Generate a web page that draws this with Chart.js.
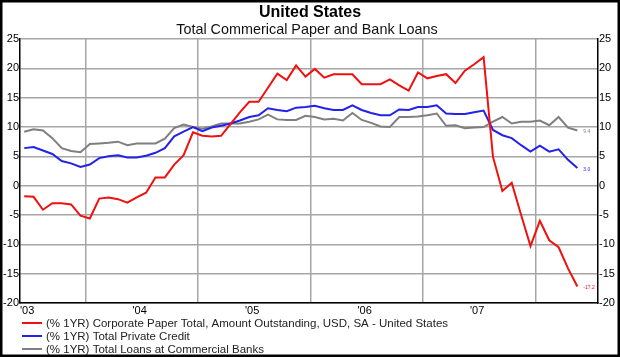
<!DOCTYPE html>
<html>
<head>
<meta charset="utf-8">
<script src="https://cdn.jsdelivr.net/npm/chart.js@4/dist/chart.umd.min.js"></script>
<style>
  html, body { margin: 0; padding: 0; background: #fff; }
  #wrap { position: absolute; left: 0; top: 0; width: 620px; height: 357px; }
</style>
</head>
<body>
<div id="wrap"><canvas id="c" width="620" height="357"></canvas></div>
<script>
// ---- Data (monthly, Jan 2003 .. Dec 2007) ----
const months = [];
for (let y = 2003; y <= 2007; y++) for (let m = 1; m <= 12; m++) months.push(y + '-' + String(m).padStart(2, '0'));

const yearLabels = ["'03", "'04", "'05", "'06", "'07"];

const corporatePaper = [
  -1.8, -1.9, -4.1, -3.0, -3.0, -3.2, -5.1, -5.6, -2.2, -2.0, -2.3, -2.9,
  -2.0, -1.2, 1.4, 1.4, 3.6, 5.2, 9.1, 8.5, 8.4, 8.5, 10.5, 12.5,
  14.3, 14.3, 16.7, 19.1, 18.0, 20.5, 18.6, 19.9, 18.4, 19.0, 19.0, 19.0,
  17.3, 17.3, 17.3, 18.1, 17.1, 16.2, 19.3, 18.3, 18.7, 19.0, 17.5, 19.6,
  20.7, 21.9, 4.9, -0.9, 0.5, -5.0, -10.3, -6.0, -9.3, -10.5, -14.1, -17.2
];
const privateCredit = [
  6.4, 6.6, 6.0, 5.4, 4.2, 3.8, 3.2, 3.6, 4.7, 5.0, 5.2, 4.8,
  4.8, 5.1, 5.6, 6.4, 8.4, 9.2, 10.0, 9.3, 9.9, 10.2, 10.6, 11.1,
  11.7, 12.0, 13.2, 12.9, 12.7, 13.3, 13.4, 13.6, 13.2, 12.9, 12.9, 13.7,
  12.9, 12.4, 12.0, 12.0, 13.0, 12.9, 13.4, 13.4, 13.7, 12.3, 12.2, 12.2,
  12.5, 12.8, 9.5, 8.6, 8.1, 6.9, 5.8, 6.8, 5.8, 6.2, 4.4, 3.0
];
const bankLoans = [
  9.2, 9.6, 9.4, 8.1, 6.4, 5.9, 5.7, 7.1, 7.2, 7.3, 7.5, 6.9,
  7.2, 7.2, 7.2, 8.0, 9.8, 10.4, 10.0, 9.7, 10.1, 10.6, 10.6, 10.6,
  10.9, 11.3, 12.1, 11.3, 11.2, 11.2, 11.9, 11.7, 11.3, 11.4, 11.1, 12.4,
  11.2, 10.7, 10.1, 10.0, 11.7, 11.7, 11.8, 12.0, 12.3, 10.2, 10.3, 9.8,
  9.9, 10.0, 10.9, 11.7, 10.6, 10.9, 10.9, 11.1, 10.3, 11.7, 9.9, 9.4
];

const seriesNames = [
  '(% 1YR) Corporate Paper Total, Amount Outstanding, USD, SA - United States',
  '(% 1YR) Total Private Credit',
  '(% 1YR) Total Loans at Commercial Banks'
];
const seriesColors = ['#f01010', '#2222e8', '#7f7f7f'];

// months -> x (months since Jan 2003, point at mid-month)
function monthToX(s) {
  const [y, m] = s.split('-').map(Number);
  return (y - 2003) * 12 + (m - 1) + 0.45;
}
function toPoints(vals) {
  return vals.map((v, i) => ({ x: monthToX(months[i]), y: v }));
}

const FONT = '"Liberation Sans", Arial, sans-serif';
const gridX = yearLabels.map((_, i) => i * 12 + 7);
const yearX = yearLabels.map((_, i) => i * 12);

const overlay = {
  id: 'overlay',
  afterDraw(chart) {
    const ctx = chart.ctx;
    ctx.save();
    // titles
    ctx.fillStyle = '#000';
    ctx.textAlign = 'center';
    ctx.textBaseline = 'middle';
    ctx.font = 'bold 16px ' + FONT;
    ctx.fillText('United States', 310, 13);
    ctx.font = '14.4px ' + FONT;
    ctx.fillStyle = '#111';
    ctx.fillText('Total Commerical Paper and Bank Loans', 307, 30);
    // legend
    ctx.textAlign = 'left';
    ctx.font = '11.5px ' + FONT;
    seriesNames.forEach((n, i) => {
      const y = 323 + i * 13;
      ctx.strokeStyle = seriesColors[i];
      ctx.lineWidth = 2;
      ctx.beginPath();
      ctx.moveTo(22, y);
      ctx.lineTo(42, y);
      ctx.stroke();
      ctx.fillStyle = '#222';
      ctx.fillText(n, 46, y + 0.5);
    });
    // end value labels
    ctx.font = '5px ' + FONT;
    chart.data.datasets.forEach((ds, i) => {
      const meta = chart.getDatasetMeta(i);
      const last = meta.data[meta.data.length - 1];
      const v = ds.data[ds.data.length - 1].y;
      ctx.fillStyle = seriesColors[i];
      ctx.fillText(v.toFixed(1), last.x + 6, last.y + 1.5);
    });
    // outer frame
    ctx.strokeStyle = '#000';
    ctx.lineWidth = 3;
    ctx.strokeRect(1, 1, 618, 355);
    ctx.restore();
  }
};

new Chart(document.getElementById('c'), {
  type: 'line',
  data: {
    datasets: [
      { label: seriesNames[0], data: toPoints(corporatePaper), borderColor: seriesColors[0], borderWidth: 2, pointRadius: 0, tension: 0 },
      { label: seriesNames[1], data: toPoints(privateCredit), borderColor: seriesColors[1], borderWidth: 2, pointRadius: 0, tension: 0 },
      { label: seriesNames[2], data: toPoints(bankLoans), borderColor: seriesColors[2], borderWidth: 2, pointRadius: 0, tension: 0 }
    ]
  },
  options: {
    responsive: false,
    animation: false,
    devicePixelRatio: 1,
    layout: { padding: { top: 39, bottom: 40, left: 0, right: 0 } },
    plugins: {
      legend: { display: false },
      title: { display: false },
      tooltip: { enabled: false }
    },
    scales: {
      x: {
        type: 'linear',
        min: 0,
        max: 61.65,
        afterBuildTicks(scale) {
          const vals = yearX.concat(gridX).sort((a, b) => a - b);
          scale.ticks = vals.map(v => ({ value: v }));
        },
        afterFit(scale) { scale.height = 14; },
        ticks: {
          autoSkip: false,
          maxRotation: 0,
          align: 'start',
          padding: 1,
          color: '#000',
          font: { family: FONT, size: 11 },
          callback(v) {
            const i = yearX.indexOf(v);
            return i >= 0 ? yearLabels[i] : '';
          }
        },
        grid: {
          drawTicks: false,
          lineWidth: 1.5,
          color(ctx) {
            return ctx.tick && gridX.includes(ctx.tick.value) ? '#a6a6a6' : 'rgba(0,0,0,0)';
          }
        },
        border: { display: true, color: '#000', width: 1.5 }
      },
      y: {
        position: 'left',
        min: -20,
        max: 25,
        afterFit(scale) { scale.width = 20; },
        ticks: {
          stepSize: 5,
          padding: 1,
          color: '#000',
          font: { family: FONT, size: 11 }
        },
        grid: { drawTicks: false, color: '#a6a6a6', lineWidth: 1.5 },
        border: { display: true, color: '#000', width: 1.5 }
      },
      y2: {
        position: 'right',
        min: -20,
        max: 25,
        afterFit(scale) { scale.width = 22; },
        ticks: {
          stepSize: 5,
          padding: 1,
          color: '#000',
          font: { family: FONT, size: 11 }
        },
        grid: { display: false, drawTicks: false },
        border: { display: true, color: '#000', width: 1.5 }
      }
    }
  },
  plugins: [overlay]
});
</script>
</body>
</html>
